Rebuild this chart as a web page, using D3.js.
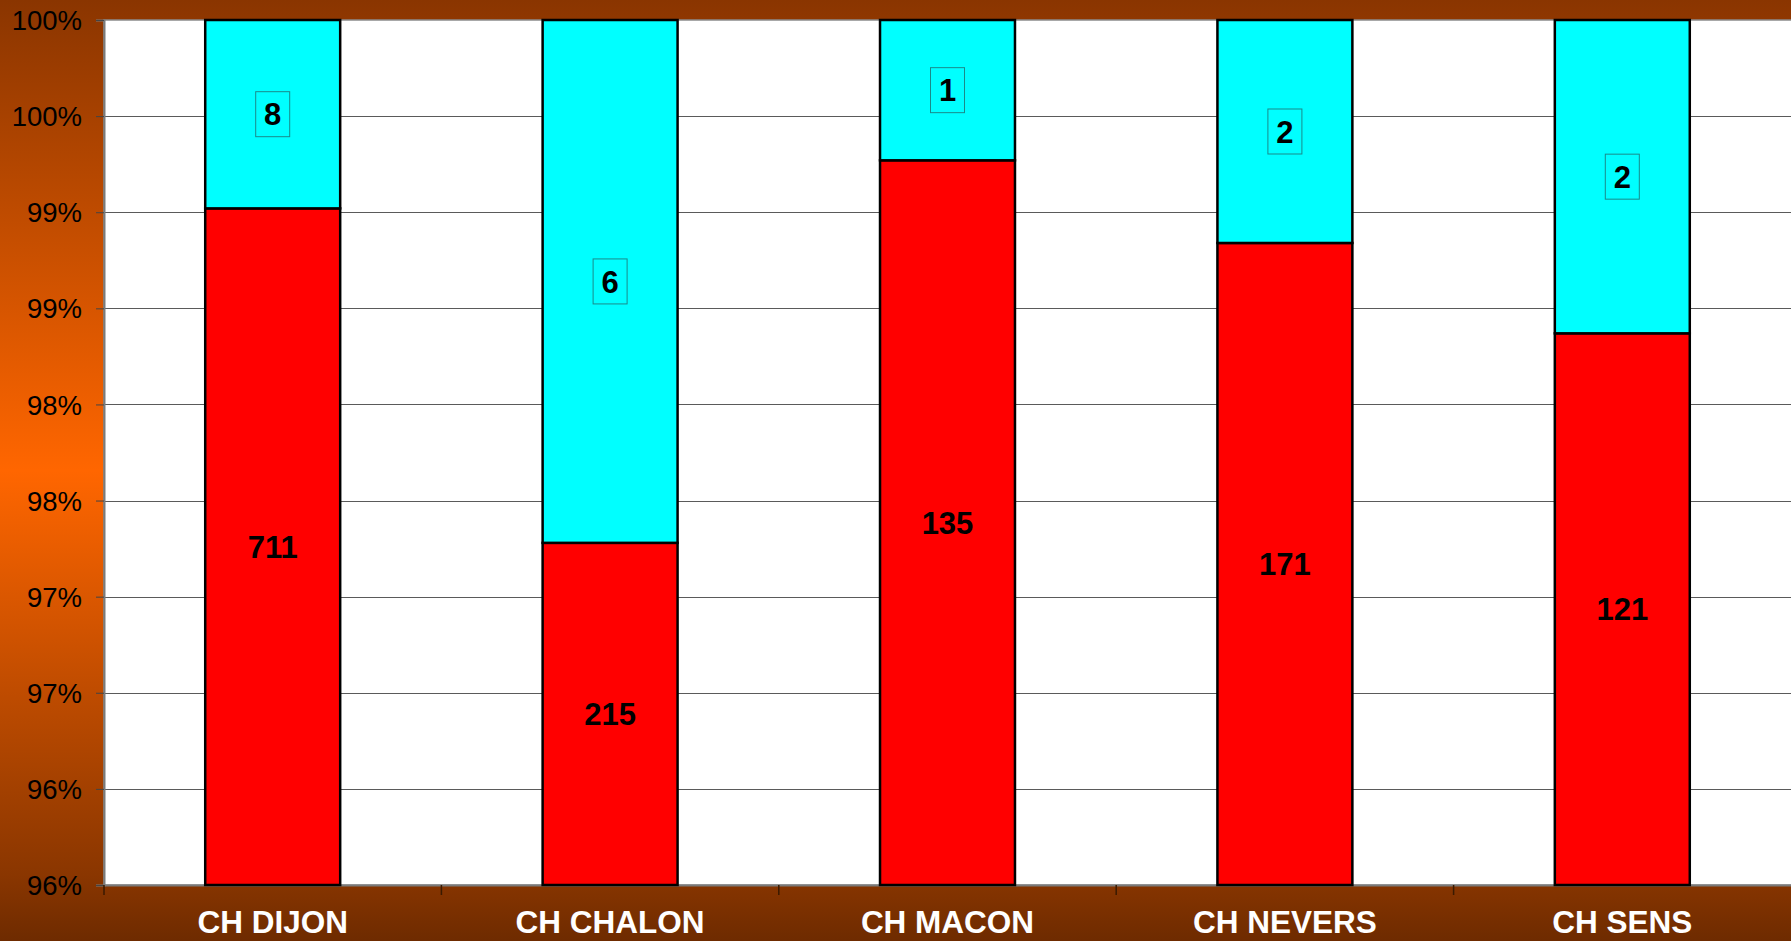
<!DOCTYPE html>
<html>
<head>
<meta charset="utf-8">
<script src="https://cdn.jsdelivr.net/npm/d3@7/dist/d3.min.js"></script>
<style>
html,body{margin:0;padding:0;overflow:hidden;background:#8a3500;}
svg{display:block;}
</style>
</head>
<body>
<svg id="chart" width="1791" height="941"></svg>
<script>
// ---- data ----
const categories = ["CH DIJON", "CH CHALON", "CH MACON", "CH NEVERS", "CH SENS"];
const redCounts  = [711, 215, 135, 171, 121];
const cyanCounts = [8, 6, 1, 2, 2];
// share (%) of the red segment
const redShare   = [99.02, 97.28, 99.27, 98.84, 98.37];
const yTicks     = [95.5, 96, 96.5, 97, 97.5, 98, 98.5, 99, 99.5, 100];

const W = 1791, H = 941;
const margin = {left: 104, top: 20, right: 0, bottom: 56};
const svg = d3.select("#chart");

// background gradient
const defs = svg.append("defs");
const grad = defs.append("linearGradient").attr("id","bg").attr("x1",0).attr("y1",0).attr("x2",0).attr("y2",1);
[[0,"#8a3500"],[0.5,"#ff6600"],[0.93,"#8a3600"],[1,"#6e2b00"]].forEach(([o,c]) =>
  grad.append("stop").attr("offset",o).attr("stop-color",c));
svg.append("rect").attr("width",W).attr("height",H).attr("fill","url(#bg)");

const x = d3.scaleBand().domain(categories).range([margin.left, W - margin.right]).paddingInner(0).paddingOuter(0);
const y = d3.scaleLinear().domain([95.5, 100]).range([H - margin.bottom, margin.top]);

// plot area
svg.append("rect")
  .attr("x", margin.left).attr("y", margin.top)
  .attr("width", W - margin.left - margin.right + 2)
  .attr("height", y(95.5) - y(100))
  .attr("fill", "#ffffff").attr("stroke", "#8c8c8c").attr("stroke-width", 1.5);

// gridlines
svg.append("g").selectAll("line").data(yTicks.slice(1, -1)).join("line")
  .attr("x1", margin.left).attr("x2", W)
  .attr("y1", d => Math.round(y(d)) + 0.5).attr("y2", d => Math.round(y(d)) + 0.5)
  .attr("stroke", "#5a5a5a").attr("stroke-width", 1.2);

// y axis
const fmt = d => Math.round(d + 1e-9) + "%";
const yAxis = d3.axisLeft(y).tickValues(yTicks).tickFormat(fmt).tickSize(8).tickPadding(14);
const gy = svg.append("g").attr("transform", `translate(${margin.left},0)`).call(yAxis);
gy.select(".domain").attr("stroke", "#7a7a7a").attr("stroke-width", 2);
gy.selectAll(".tick line").attr("stroke", "#444");
gy.selectAll("text").attr("fill", "#000").style("font-family", "Liberation Sans, Arial, sans-serif")
  .style("font-size", "27.5px").attr("dy", "0.35em");

// x axis
const xAxis = d3.axisBottom(x).tickSize(0).tickPadding(0);
const gx = svg.append("g").attr("transform", `translate(0,${y(95.5)})`).call(xAxis);
gx.select(".domain").attr("stroke", "#7a7a7a").attr("stroke-width", 2);
gx.selectAll(".tick text").attr("fill", "#fff")
  .style("font-family", "Liberation Sans, Arial, sans-serif").style("font-size", "31.5px").style("font-weight", "bold")
  .attr("y", 48).attr("dy", 0);
// category boundary tick marks
gx.append("g").selectAll("line").data(categories.slice(1)).join("line")
  .attr("x1", d => x(d)).attr("x2", d => x(d)).attr("y1", 0).attr("y2", 10)
  .attr("stroke", "#3a1a00").attr("stroke-width", 1.5);
gx.append("line").attr("x1", margin.left).attr("x2", margin.left).attr("y1", 0).attr("y2", 10)
  .attr("stroke", "#3a1a00").attr("stroke-width", 1.5);

// bars
const barW = x.bandwidth() * 0.4;
const bx = d => x(d) + (x.bandwidth() - barW) / 2;
const bars = svg.append("g");
categories.forEach((c, i) => {
  const yRed = y(redShare[i]);
  bars.append("rect").attr("x", bx(c)).attr("y", yRed).attr("width", barW).attr("height", y(95.5) - yRed)
    .attr("fill", "#ff0000").attr("stroke", "#000").attr("stroke-width", 2.5);
  bars.append("rect").attr("x", bx(c)).attr("y", y(100)).attr("width", barW).attr("height", yRed - y(100))
    .attr("fill", "#00ffff").attr("stroke", "#000").attr("stroke-width", 2.5);
});

// labels
const lab = svg.append("g").style("font-family", "Liberation Sans, Arial, sans-serif")
  .style("font-size", "31px").style("font-weight", "bold");
categories.forEach((c, i) => {
  const cx = x(c) + x.bandwidth() / 2;
  const yRed = y(redShare[i]);
  const redMid = (yRed + y(95.5)) / 2;
  const cyMid = (y(100) + yRed) / 2;
  lab.append("text").attr("x", cx).attr("y", redMid).attr("text-anchor", "middle").attr("dy", "0.36em")
    .attr("fill", "#000").text(redCounts[i]);
  const t = String(cyanCounts[i]);
  const bw = 34, bh = 45;
  lab.append("rect").attr("x", cx - bw / 2).attr("y", cyMid - bh / 2).attr("width", bw).attr("height", bh)
    .attr("fill", "#00ffff").attr("stroke", "#1a8a8a").attr("stroke-width", 1);
  lab.append("text").attr("x", cx).attr("y", cyMid).attr("text-anchor", "middle").attr("dy", "0.36em")
    .attr("fill", "#000").text(t);
});
</script>
</body>
</html>
